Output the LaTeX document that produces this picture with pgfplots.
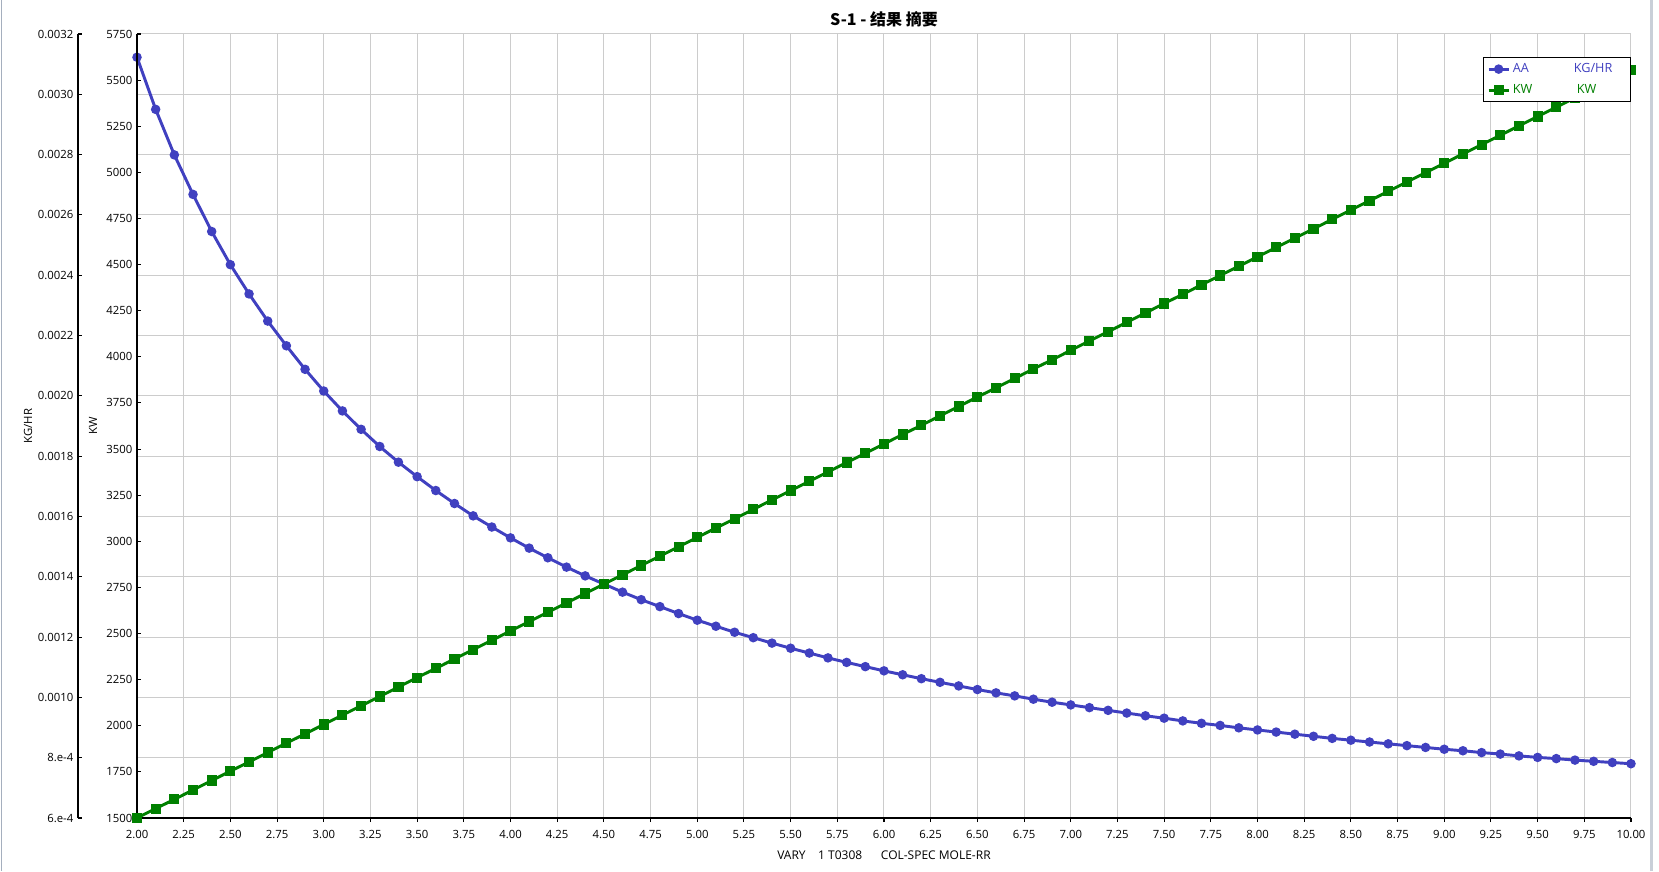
\documentclass[border=0pt]{standalone}
\usepackage{pgfplots}
\pgfplotsset{compat=1.18}
\usepackage{fontspec}
\setmainfont{Open Sans}
\newfontfamily\cjk{Noto Sans CJK SC}
\definecolor{aablue}{RGB}{64,64,192}
\definecolor{kwgreen}{RGB}{0,128,0}
\definecolor{gridgray}{RGB}{204,204,204}
\definecolor{framegray}{RGB}{165,175,190}

\pgfplotstableread{
x y
2.0 0.003123
2.1 0.002950
2.2 0.002799
2.3 0.002668
2.4 0.002545
2.5 0.002435
2.6 0.002338
2.7 0.002248
2.8 0.002166
2.9 0.002088
3.0 0.002016
3.1 0.001950
3.2 0.001889
3.3 0.001832
3.4 0.001780
3.5 0.001732
3.6 0.001686
3.7 0.001643
3.8 0.001602
3.9 0.001565
4.0 0.001529
4.1 0.001495
4.2 0.001463
4.3 0.001432
4.4 0.001403
4.5 0.001376
4.6 0.001349
4.7 0.001324
4.8 0.001301
4.9 0.001278
5.0 0.001256
5.1 0.001236
5.2 0.001216
5.3 0.001198
5.4 0.001180
5.5 0.001163
5.6 0.001147
5.7 0.001131
5.8 0.001116
5.9 0.001102
6.0 0.001088
6.1 0.001075
6.2 0.001062
6.3 0.001050
6.4 0.001038
6.5 0.001026
6.6 0.001015
6.7 0.001005
6.8 0.000994
6.9 0.000984
7.0 0.000975
7.1 0.000966
7.2 0.000957
7.3 0.000948
7.4 0.000939
7.5 0.000931
7.6 0.000922
7.7 0.000914
7.8 0.000907
7.9 0.000899
8.0 0.000892
8.1 0.000885
8.2 0.000878
8.3 0.000871
8.4 0.000864
8.5 0.000858
8.6 0.000852
8.7 0.000846
8.8 0.000840
8.9 0.000834
9.0 0.000828
9.1 0.000823
9.2 0.000817
9.3 0.000812
9.4 0.000806
9.5 0.000801
9.6 0.000797
9.7 0.000792
9.8 0.000788
9.9 0.000784
10.0 0.000780
}\aatable

\pgfplotstableread{
x y
2.0 1500
2.1 1551
2.2 1601
2.3 1652
2.4 1703
2.5 1754
2.6 1804
2.7 1855
2.8 1906
2.9 1956
3.0 2007
3.1 2058
3.2 2108
3.3 2159
3.4 2210
3.5 2261
3.6 2311
3.7 2362
3.8 2413
3.9 2463
4.0 2514
4.1 2565
4.2 2615
4.3 2666
4.4 2717
4.5 2768
4.6 2818
4.7 2869
4.8 2920
4.9 2970
5.0 3021
5.1 3072
5.2 3122
5.3 3173
5.4 3224
5.5 3275
5.6 3325
5.7 3376
5.8 3427
5.9 3477
6.0 3528
6.1 3579
6.2 3629
6.3 3680
6.4 3731
6.5 3782
6.6 3832
6.7 3883
6.8 3934
6.9 3984
7.0 4035
7.1 4086
7.2 4136
7.3 4187
7.4 4238
7.5 4289
7.6 4339
7.7 4390
7.8 4441
7.9 4491
8.0 4542
8.1 4593
8.2 4643
8.3 4694
8.4 4745
8.5 4796
8.6 4846
8.7 4897
8.8 4948
8.9 4998
9.0 5049
9.1 5100
9.2 5150
9.3 5201
9.4 5252
9.5 5303
9.6 5353
9.7 5404
9.8 5455
9.9 5505
10.0 5556
}\kwtable

\pgfplotsset{
  base/.style={
    scale only axis,
    width=1120.5pt, height=588pt,
    xmin=2, xmax=10,
    clip=false,
    scaled y ticks=false,
    axis line style={-, black, line width=0.8pt},
    tick style={black, line width=0.8pt},
    major tick length=3pt,
    /pgf/number format/assume math mode=true,
    tick label style={font=\fontsize{8.5}{10}\selectfont},
    label style={font=\fontsize{8.5}{10}\selectfont},
  }
}

\begin{document}
\begin{tikzpicture}
\useasboundingbox (-102.75pt,-39.75pt) rectangle (1141.5pt,613.5pt);
\fill[white] (-102.75pt,-39.75pt) rectangle (1141.5pt,613.5pt);
\draw[framegray, line width=1pt] (-101.6pt,-39.75pt) -- (-101.6pt,613.5pt);
\draw[framegray!60, line width=2pt] (1136pt,-39.75pt) -- (1136pt,613.5pt);

% Axis A: grid, x axis, AA series (KG/HR scale)
\begin{axis}[base,
  ymin=0.0006, ymax=0.0032,
  axis x line*=bottom, axis y line*=left,
  xtick={2,2.25,2.5,2.75,3,3.25,3.5,3.75,4,4.25,4.5,4.75,5,5.25,5.5,5.75,6,6.25,6.5,6.75,7,7.25,7.5,7.75,8,8.25,8.5,8.75,9,9.25,9.5,9.75,10},
  ytick={0.0006,0.0008,0.0010,0.0012,0.0014,0.0016,0.0018,0.0020,0.0022,0.0024,0.0026,0.0028,0.0030,0.0032},
  yticklabels={},
  ytick style={draw=none},
  xticklabel style={/pgf/number format/fixed, /pgf/number format/fixed zerofill, /pgf/number format/precision=2, yshift=-2.5pt},
  xtick align=outside,
  grid=major,
  major grid style={gridgray, line width=0.75pt},
  xlabel={VARY\ \ \ \ 1 T0308\ \ \ \ \ \ COL-SPEC MOLE-RR},
  xlabel style={at={(axis description cs:0.5,0)}, anchor=center, yshift=-27.75pt, font=\fontsize{9}{10}\selectfont},
  title={S-1 - 结果 摘要},
  title style={at={(axis description cs:0.5,1)}, anchor=center, yshift=5pt, font=\cjk\bfseries\fontsize{12}{14}\selectfont},
]
\addplot[aablue, line width=2.2pt, mark=*, mark size=2.4pt, mark options={solid}] table[x=x,y=y] {\aatable};
\end{axis}

% Axis B: KW scale and series, legend
\begin{axis}[base,
  ymin=1500, ymax=5750,
  axis x line=none, axis y line*=left,
  ytick={1500,1750,2000,2250,2500,2750,3000,3250,3500,3750,4000,4250,4500,4750,5000,5250,5500,5750},
  /pgf/number format/1000 sep={},
  ytick align=inside,
  ylabel={KW},
  ylabel style={at={(axis description cs:0,0.5)}, anchor=center, yshift=33pt},
  legend style={at={(axis description cs:1,1)}, anchor=north east, yshift=-17.25pt,
    draw=black, line width=0.8pt, fill=white, font=\fontsize{9.5}{11}\selectfont,
    inner sep=2.5pt, row sep=3.5pt, cells={anchor=west}},
  legend image code/.code={\draw[mark repeat=2, mark phase=2, #1] plot coordinates {(0pt,0pt) (7.5pt,0pt) (15pt,0pt)};},
]
\addlegendimage{aablue, line width=2.2pt, mark=*, mark size=2.4pt, mark options={solid}}
\addlegendentry{\color{aablue}\makebox[45.75pt][l]{AA}\makebox[38pt][l]{KG/HR}}
\addplot[kwgreen, line width=2.2pt, mark=square*, mark size=2.7pt, mark options={solid}] table[x=x,y=y] {\kwtable};
\addlegendentry{\color{kwgreen}\makebox[48pt][l]{KW}\makebox[35.75pt][l]{KW}}
\end{axis}

% Axis C: outer KG/HR scale
\begin{axis}[base,
  width=1pt,
  at={(-44.25pt,0pt)}, anchor=south west,
  xmin=0, xmax=1,
  ymin=0.0006, ymax=0.0032,
  axis x line=none, axis y line*=left,
  ytick={0.0006,0.0008,0.0010,0.0012,0.0014,0.0016,0.0018,0.0020,0.0022,0.0024,0.0026,0.0028,0.0030,0.0032},
  yticklabels={6.e-4,8.e-4,0.0010,0.0012,0.0014,0.0016,0.0018,0.0020,0.0022,0.0024,0.0026,0.0028,0.0030,0.0032},
  ytick align=inside,
  ylabel={KG/HR},
  ylabel style={at={(axis description cs:0,0.5)}, anchor=center, yshift=37.5pt},
]
\end{axis}
\end{tikzpicture}
\end{document}
